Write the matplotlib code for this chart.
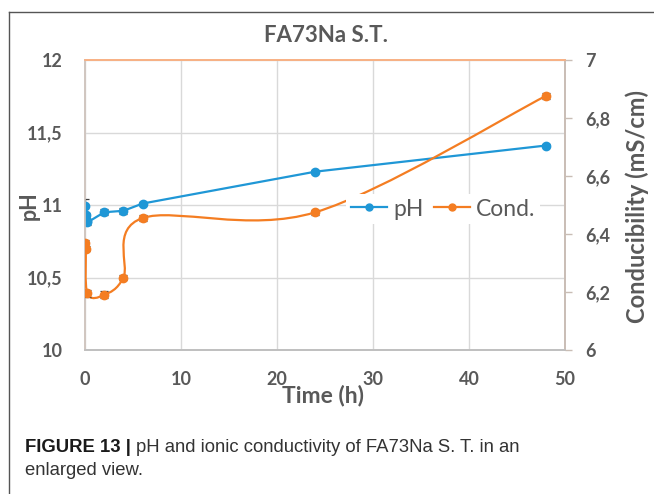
import matplotlib
matplotlib.use("Agg")
import matplotlib.pyplot as plt
from matplotlib.path import Path
from matplotlib.patches import PathPatch
from matplotlib.lines import Line2D
from matplotlib import font_manager

# ---- data ----
time_ph = [0, 0.083, 0.167, 0.25, 2, 4, 6, 24, 48]
ph = [10.99, 10.93, 10.89, 10.88, 10.95, 10.96, 11.01, 11.23, 11.41]
ph_err = [0.05, 0.015, 0.015, 0.015, 0.02, 0.02, 0.01, 0.01, 0.01]

time_cond = [0, 0.083, 0.25, 2, 4, 6, 24, 48]
cond = [6.37, 6.35, 6.195, 6.19, 6.25, 6.455, 6.475, 6.876]
cond_err = [0.01, 0.01, 0.012, 0.012, 0.01, 0.01, 0.008, 0.01]

x_ticks = [0, 10, 20, 30, 40, 50]
ph_ticks = [10, 10.5, 11, 11.5, 12]
ph_ticklabels = ["10", "10,5", "11", "11,5", "12"]
cond_ticks = [6, 6.2, 6.4, 6.6, 6.8, 7]
cond_ticklabels = ["6", "6,2", "6,4", "6,6", "6,8", "7"]

BLUE = "#1f97d6"
ORANGE = "#f47d22"
GRAY = "#595959"
FONT = "Lato"

fig = plt.figure(figsize=(6.54, 4.94), dpi=100)
W, H = 654, 494
ax = fig.add_axes([85 / W, 1 - 350 / H, 480 / W, 290 / H])
ax2 = ax.twinx()

# pH series (straight lines)
ax.errorbar(time_ph, ph, yerr=ph_err, fmt="none", ecolor="#404040",
            elinewidth=0.9, capsize=3, capthick=0.9, zorder=3)
ax.plot(time_ph, ph, color=BLUE, lw=1.6, marker="o", ms=6, zorder=4)

# Cond series (Excel-like smoothed line)
pts = list(zip(time_cond, cond))
verts = [pts[0]]
codes = [Path.MOVETO]
n = len(pts)
for i in range(n - 1):
    p0 = pts[i - 1] if i > 0 else pts[i]
    p1 = pts[i]
    p2 = pts[i + 1]
    p3 = pts[i + 2] if i + 2 < n else pts[i + 1]
    c1 = (p1[0] + (p2[0] - p0[0]) / 6, p1[1] + (p2[1] - p0[1]) / 6)
    c2 = (p2[0] - (p3[0] - p1[0]) / 6, p2[1] - (p3[1] - p1[1]) / 6)
    verts += [c1, c2, p2]
    codes += [Path.CURVE4] * 3
ax2.add_patch(PathPatch(Path(verts, codes), fill=False, edgecolor=ORANGE,
                        lw=1.6, zorder=3))
ax2.errorbar(time_cond, cond, yerr=cond_err, fmt="none", ecolor="#404040",
             elinewidth=0.9, capsize=3, capthick=0.9, zorder=4)
ax2.plot(time_cond, cond, ls="none", color=ORANGE, marker="o", ms=6, zorder=5)

# axes limits / ticks
ax.set_xlim(0, 50)
ax.set_ylim(10, 12)
ax2.set_ylim(6, 7)
ax.set_xticks(x_ticks)
ax.set_xticklabels([str(t) for t in x_ticks])
ax.set_yticks(ph_ticks)
ax.set_yticklabels(ph_ticklabels)
ax2.set_yticks(cond_ticks)
ax2.set_yticklabels(cond_ticklabels)

for lab in ax.get_xticklabels() + ax.get_yticklabels() + ax2.get_yticklabels():
    lab.set_fontsize(13)
    lab.set_fontweight("bold")
    lab.set_color(GRAY)
    lab.set_family(FONT)

ax.tick_params(axis="x", length=0, pad=15)
ax.tick_params(axis="y", length=0, pad=16)
ax2.tick_params(axis="y", length=5, width=1, color="#c9bdb5", direction="out", pad=9.5)

ax.grid(True, color="#d9d9d9", lw=1)
ax.set_axisbelow(True)
ax2.grid(False)

for a in (ax, ax2):
    a.spines["top"].set_color("#f8b083")
    a.spines["left"].set_color("#d0c6c0")
    a.spines["bottom"].set_color("#bfbfbf")
    a.spines["right"].set_color("#c9bdb5")
    for s in a.spines.values():
        s.set_linewidth(1.2)
ax2.patch.set_visible(False)

# labels
fig.text(326 / W, 1 - 36 / H, "FA73Na S.T.", ha="center", va="center",
         fontsize=16, fontweight="bold", color=GRAY, family=FONT)
fig.text(29 / W, 1 - 206 / H, "pH", ha="center", va="center", rotation=90,
         fontsize=15.5, fontweight="bold", color=GRAY, family=FONT)
fig.text(637 / W, 1 - 206 / H, "Conducibility (mS/cm)", ha="center", va="center",
         rotation=90, fontsize=17, fontweight="bold", color=GRAY, family=FONT)
fig.text(323 / W, 1 - 395 / H, "Time (h)", ha="center", va="center",
         fontsize=16.5, fontweight="bold", color=GRAY, family=FONT)

# legend
handles = [Line2D([], [], color=BLUE, lw=1.6, marker="o", ms=5),
           Line2D([], [], color=ORANGE, lw=1.6, marker="o", ms=5)]
leg = ax2.legend(handles, ["pH", "Cond."], loc="center",
                 bbox_to_anchor=((443 - 85) / 480, (350 - 209) / 290),
                 ncol=2, frameon=True, fancybox=False, borderpad=0.2,
                 handlelength=1.6, handletextpad=0.25, columnspacing=0.45,
                 prop={"family": FONT, "size": 16.5})
leg.get_frame().set_edgecolor("none")
leg.get_frame().set_facecolor("white")
leg.get_frame().set_alpha(1)
for t in leg.get_texts():
    t.set_color(GRAY)

# caption
names = {f.name for f in font_manager.fontManager.ttflist}
capfam = "Liberation Sans Narrow" if "Liberation Sans Narrow" in names else "Liberation Sans"
capsize = 15 if capfam == "Liberation Sans Narrow" else 13.3
fig.canvas.draw()
r = fig.canvas.get_renderer()
t1 = fig.text(25 / W, 1 - 447 / H, "FIGURE 13 |", ha="left", va="center",
              fontsize=capsize, fontweight="bold", color="#1a1a1a", family=capfam)
bb = t1.get_window_extent(renderer=r)
x2 = (bb.x1 + 5) / fig.dpi / fig.get_figwidth()
fig.text(x2, 1 - 447 / H, "pH and ionic conductivity of FA73Na S. T. in an",
         ha="left", va="center", fontsize=capsize, color="#333333", family=capfam)
fig.text(25 / W, 1 - 470 / H, "enlarged view.", ha="left", va="center",
         fontsize=capsize, color="#333333", family=capfam)

# frame lines
fig.add_artist(Line2D([8.5 / W, 8.5 / W], [0, 1 - 12 / H], color="#555555",
                      lw=1, transform=fig.transFigure))
fig.add_artist(Line2D([8.5 / W, 1], [1 - 12 / H, 1 - 12 / H], color="#555555",
                      lw=1, transform=fig.transFigure))

fig.savefig("out.png", dpi=100)
